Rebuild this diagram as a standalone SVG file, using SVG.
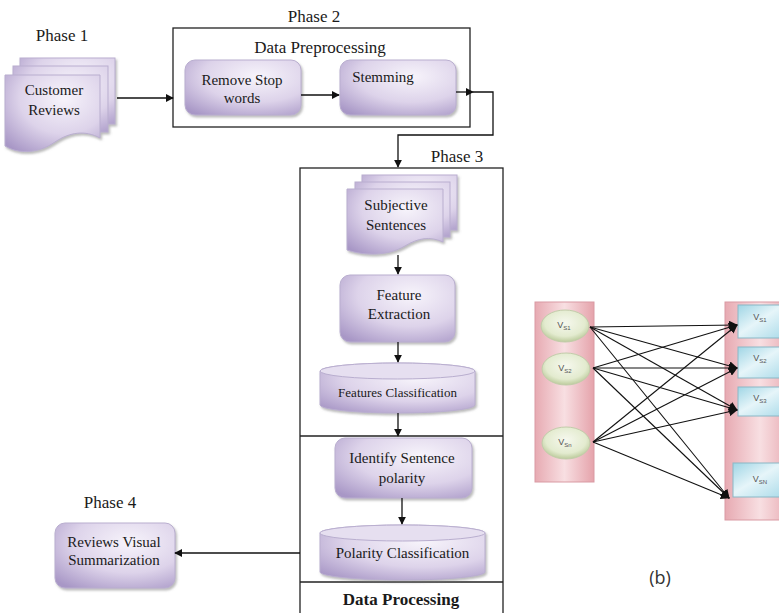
<svg xmlns="http://www.w3.org/2000/svg" width="779" height="613" viewBox="0 0 779 613">
<style>
.t{font-family:"Liberation Serif","Times New Roman",serif;fill:#1a1a1a;text-anchor:middle}
.ph{font-size:17px}
.n{font-size:15px}
.frame{fill:none;stroke:#222;stroke-width:1.3}
.node{fill:url(#lav);stroke:#b9aecf;stroke-width:1;filter:url(#sh)}
.cn{fill:none;stroke:#111;stroke-width:1.3}
.ed{fill:none;stroke:#111;stroke-width:1.1;marker-end:url(#ah2)}
.v{font-family:"Liberation Sans","DejaVu Sans",sans-serif;font-size:9px;fill:#555;text-anchor:middle}
.sub{font-size:6px}
</style>
<defs>
<radialGradient id="lav" cx="0.62" cy="0.3" r="0.85">
<stop offset="0" stop-color="#f7f4fb"/>
<stop offset="0.55" stop-color="#ddd3ea"/>
<stop offset="1" stop-color="#a897c6"/>
</radialGradient>
<linearGradient id="pink" x1="0" y1="0" x2="1" y2="0">
<stop offset="0" stop-color="#e7aab2"/>
<stop offset="0.5" stop-color="#f8dfe2"/>
<stop offset="1" stop-color="#e5a3ab"/>
</linearGradient>
<radialGradient id="grn" cx="0.5" cy="0.4" r="0.6">
<stop offset="0" stop-color="#f6f8ee"/>
<stop offset="0.7" stop-color="#e3ebcf"/>
<stop offset="1" stop-color="#bccb9c"/>
</radialGradient>
<linearGradient id="blu" x1="0" y1="0" x2="1" y2="1">
<stop offset="0" stop-color="#9fd5e5"/>
<stop offset="0.45" stop-color="#e6f5f9"/>
<stop offset="1" stop-color="#a6d9e8"/>
</linearGradient>
<filter id="sh" x="-10%" y="-10%" width="125%" height="130%">
<feDropShadow dx="1.5" dy="2" stdDeviation="1.2" flood-color="#777" flood-opacity="0.5"/>
</filter>
<marker id="ah" viewBox="0 0 10 10" refX="9" refY="5" markerWidth="8" markerHeight="8" markerUnits="userSpaceOnUse" orient="auto">
<path d="M0,0 L10,5 L0,10 Z" fill="#111"/>
</marker>
<marker id="ah2" viewBox="0 0 10 10" refX="9" refY="5" markerWidth="9" markerHeight="9" markerUnits="userSpaceOnUse" orient="auto">
<path d="M0,0 L10,5 L0,10 Z" fill="#111"/>
</marker>
</defs>
<rect width="779" height="613" fill="#fff"/>

<g id="phase2">
<rect class="frame" x="173" y="28" width="297" height="99"/>
<text class="t ph" x="314" y="22">Phase 2</text>
<text class="t ph" x="320" y="53">Data Preprocessing</text>
</g>
<g id="phase3">
<rect class="frame" x="300" y="168" width="203" height="450"/>
<line class="frame" x1="300" y1="436" x2="503" y2="436"/>
<line class="frame" x1="300" y1="582" x2="503" y2="582"/>
<text class="t ph" x="457" y="162">Phase 3</text>
<text class="t" x="401" y="605" style="font-size:17px;font-weight:bold">Data Processing</text>
</g>

<g id="customer-reviews">
<text class="t ph" x="62" y="41">Phase 1</text>
<g filter="url(#sh)">
<rect x="20" y="58" width="95" height="66" fill="url(#lav)" stroke="#b9aecf"/>
<rect x="13" y="66" width="95" height="66" fill="url(#lav)" stroke="#b9aecf"/>
<path d="M5,75 H100 V138 C85,130 70,132 55,142 C38,154 18,154 5,146 Z" fill="url(#lav)" stroke="#b9aecf"/>
</g>
<text class="t n" x="54" y="95">Customer</text>
<text class="t n" x="54" y="115">Reviews</text>
</g>

<g id="remove-stop-words">
<rect class="node" x="185" y="60" width="116" height="55" rx="10"/>
<text class="t n" x="242" y="85">Remove Stop</text>
<text class="t n" x="242" y="103">words</text>
</g>
<g id="stemming">
<rect class="node" x="340" y="60" width="116" height="55" rx="10"/>
<text class="t n" x="383" y="82">Stemming</text>
</g>

<g id="subjective-sentences">
<g filter="url(#sh)">
<rect x="362" y="175" width="95" height="55" fill="url(#lav)" stroke="#b9aecf"/>
<rect x="355" y="182" width="95" height="55" fill="url(#lav)" stroke="#b9aecf"/>
<path d="M347,189 H443 V242 C430,236 418,238 405,246 C388,256 365,256 347,250 Z" fill="url(#lav)" stroke="#b9aecf"/>
</g>
<text class="t n" x="396" y="210">Subjective</text>
<text class="t n" x="396" y="230">Sentences</text>
</g>

<g id="feature-extraction">
<rect class="node" x="340" y="275" width="115" height="67" rx="10"/>
<text class="t n" x="399" y="300">Feature</text>
<text class="t n" x="399" y="319">Extraction</text>
</g>

<g id="features-classification">
<g filter="url(#sh)">
<path d="M320,371 A77.5,8 0 0 1 475,371 V405 A77.5,8 0 0 1 320,405 Z" fill="url(#lav)" stroke="#b9aecf"/>
<ellipse cx="397.5" cy="371" rx="77.5" ry="8" fill="#e6dff0" stroke="#b9aecf"/>
</g>
<text class="t" x="397.5" y="397" style="font-size:13px">Features Classification</text>
</g>

<g id="identify-sentence-polarity">
<rect class="node" x="335" y="438" width="137" height="60" rx="10"/>
<text class="t n" x="402" y="463">Identify Sentence</text>
<text class="t n" x="402" y="483">polarity</text>
</g>

<g id="polarity-classification">
<g filter="url(#sh)">
<path d="M320,533 A82.5,8 0 0 1 485,533 V572 A82.5,8 0 0 1 320,572 Z" fill="url(#lav)" stroke="#b9aecf"/>
<ellipse cx="402.5" cy="533" rx="82.5" ry="8" fill="#e6dff0" stroke="#b9aecf"/>
</g>
<text class="t n" x="402.5" y="558">Polarity Classification</text>
</g>

<g id="reviews-visual-summarization">
<text class="t ph" x="110" y="508">Phase 4</text>
<rect class="node" x="55" y="523" width="120" height="65" rx="10"/>
<text class="t n" x="114" y="547">Reviews Visual</text>
<text class="t n" x="114" y="565">Summarization</text>
</g>

<g id="connectors">
<line class="cn" x1="117" y1="98" x2="173" y2="98" marker-end="url(#ah)"/>
<line class="cn" x1="301" y1="95" x2="339" y2="95" marker-end="url(#ah)"/>
<line class="cn" x1="456" y1="92" x2="473" y2="92" marker-end="url(#ah)"/>
<polyline class="cn" points="473,92 493,92 493,135 398,135 398,167" marker-end="url(#ah)"/>
<line class="cn" x1="398" y1="255" x2="398" y2="274" marker-end="url(#ah)"/>
<line class="cn" x1="398" y1="342" x2="398" y2="362" marker-end="url(#ah)"/>
<line class="cn" x1="398" y1="413" x2="398" y2="436" marker-end="url(#ah)"/>
<line class="cn" x1="402" y1="498" x2="402" y2="524" marker-end="url(#ah)"/>
<line class="cn" x1="300" y1="553" x2="175" y2="553" marker-end="url(#ah)"/>
</g>

<g id="left-layer">
<rect x="535" y="302" width="59" height="180" fill="url(#pink)" stroke="#d99aa3"/>
</g>
<g id="right-layer">
<rect x="725" y="302" width="70" height="218" fill="url(#pink)" stroke="#d99aa3"/>
</g>
<g id="vs1-left"><ellipse cx="565" cy="326" rx="24" ry="16" fill="url(#grn)" stroke="#c2ccaa"/><text class="v" x="564" y="328">V<tspan class="sub" dy="2">S1</tspan></text></g>
<g id="vs2-left"><ellipse cx="566" cy="369" rx="24" ry="16" fill="url(#grn)" stroke="#c2ccaa"/><text class="v" x="565" y="371">V<tspan class="sub" dy="2">S2</tspan></text></g>
<g id="vsn-left"><ellipse cx="566" cy="443" rx="24" ry="16" fill="url(#grn)" stroke="#c2ccaa"/><text class="v" x="565" y="445">V<tspan class="sub" dy="2">Sn</tspan></text></g>

<g id="vs1-right"><rect x="738" y="305" width="50" height="33" fill="url(#blu)" stroke="#8ab8c6"/><text class="v" x="760" y="320">V<tspan class="sub" dy="2">S1</tspan></text></g>
<g id="vs2-right"><rect x="738" y="347" width="50" height="31" fill="url(#blu)" stroke="#8ab8c6"/><text class="v" x="760" y="361">V<tspan class="sub" dy="2">S2</tspan></text></g>
<g id="vs3-right"><rect x="738" y="387" width="50" height="29" fill="url(#blu)" stroke="#8ab8c6"/><text class="v" x="760" y="401">V<tspan class="sub" dy="2">S3</tspan></text></g>
<g id="vsn-right"><rect x="733" y="463" width="55" height="34" fill="url(#blu)" stroke="#8ab8c6"/><text class="v" x="760" y="482">V<tspan class="sub" dy="2">SN</tspan></text></g>

<g id="edges-b">
<line class="ed" x1="590" y1="327" x2="737" y2="325"/>
<line class="ed" x1="590" y1="327" x2="737" y2="368"/>
<line class="ed" x1="590" y1="327" x2="737" y2="410"/>
<line class="ed" x1="590" y1="327" x2="729" y2="498"/>
<line class="ed" x1="593" y1="368" x2="737" y2="325"/>
<line class="ed" x1="593" y1="368" x2="737" y2="368"/>
<line class="ed" x1="593" y1="368" x2="737" y2="410"/>
<line class="ed" x1="593" y1="368" x2="729" y2="498"/>
<line class="ed" x1="593" y1="442" x2="737" y2="325"/>
<line class="ed" x1="593" y1="442" x2="737" y2="368"/>
<line class="ed" x1="593" y1="442" x2="737" y2="410"/>
<line class="ed" x1="593" y1="442" x2="729" y2="498"/>
</g>
<text x="660" y="584" style="font-family:'Open Sans','Liberation Sans',sans-serif;font-size:18px;fill:#333;text-anchor:middle">(b)</text>
</svg>
